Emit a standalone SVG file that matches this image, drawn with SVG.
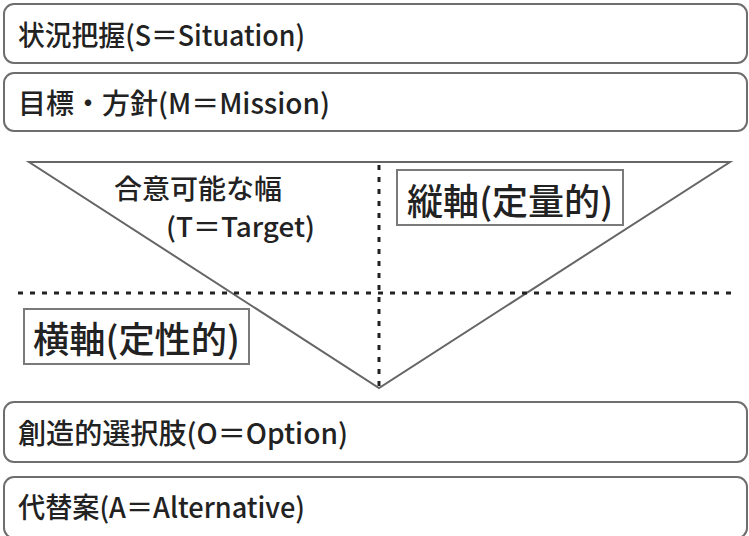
<svg xmlns="http://www.w3.org/2000/svg" width="749" height="536" viewBox="0 0 749 536">
<style>
.box{fill:#fff;stroke:#6e6e6e;stroke-width:2}
.lbl{fill:#fff;stroke:#7a7a7a;stroke-width:2}
.t{font-family:"Noto Sans CJK JP","Noto Sans",sans-serif;font-weight:500;fill:#222;dominant-baseline:central}
.dot{fill:none;stroke:#222;stroke-width:3;stroke-dasharray:5 7}
.tri{fill:none;stroke:#666;stroke-width:2}
</style>
<rect width="749" height="536" fill="#fff"/>
<g id="situation">
<rect class="box" x="4" y="4" width="743" height="59" rx="10"/>
<text class="t" x="18" y="34" font-size="28" textLength="287" lengthAdjust="spacingAndGlyphs">状況把握(S＝Situation)</text>
</g>
<g id="mission">
<rect class="box" x="4" y="73" width="743" height="58" rx="10"/>
<text class="t" x="18" y="102" font-size="28" textLength="312" lengthAdjust="spacingAndGlyphs">目標・方針(M＝Mission)</text>
</g>
<g id="connectors">
<polygon class="tri" points="29,162 730,162 379,388"/>
<line class="dot" x1="379" y1="165" x2="379" y2="386"/>
<line class="dot" x1="18" y1="293" x2="738" y2="293"/>
</g>
<g id="target">
<text class="t" x="114" y="187" font-size="27" textLength="168" lengthAdjust="spacingAndGlyphs">合意可能な幅</text>
<text class="t" x="166" y="225" font-size="27" textLength="149" lengthAdjust="spacingAndGlyphs">(T＝Target)</text>
</g>
<g id="vertical-axis">
<rect class="lbl" x="397" y="170" width="226" height="55"/>
<text class="t" x="407" y="199" font-size="36" textLength="206" lengthAdjust="spacingAndGlyphs">縦軸(定量的)</text>
</g>
<g id="horizontal-axis">
<rect class="lbl" x="24" y="309" width="225" height="55"/>
<text class="t" x="33" y="337" font-size="36" textLength="207" lengthAdjust="spacingAndGlyphs">横軸(定性的)</text>
</g>
<g id="option">
<rect class="box" x="4" y="402" width="743" height="60" rx="10"/>
<text class="t" x="18" y="432" font-size="28" textLength="330" lengthAdjust="spacingAndGlyphs">創造的選択肢(O＝Option)</text>
</g>
<g id="alternative">
<rect class="box" x="4" y="477" width="743" height="61" rx="10"/>
<text class="t" x="18" y="506" font-size="28" textLength="287" lengthAdjust="spacingAndGlyphs">代替案(A＝Alternative)</text>
</g>
</svg>
